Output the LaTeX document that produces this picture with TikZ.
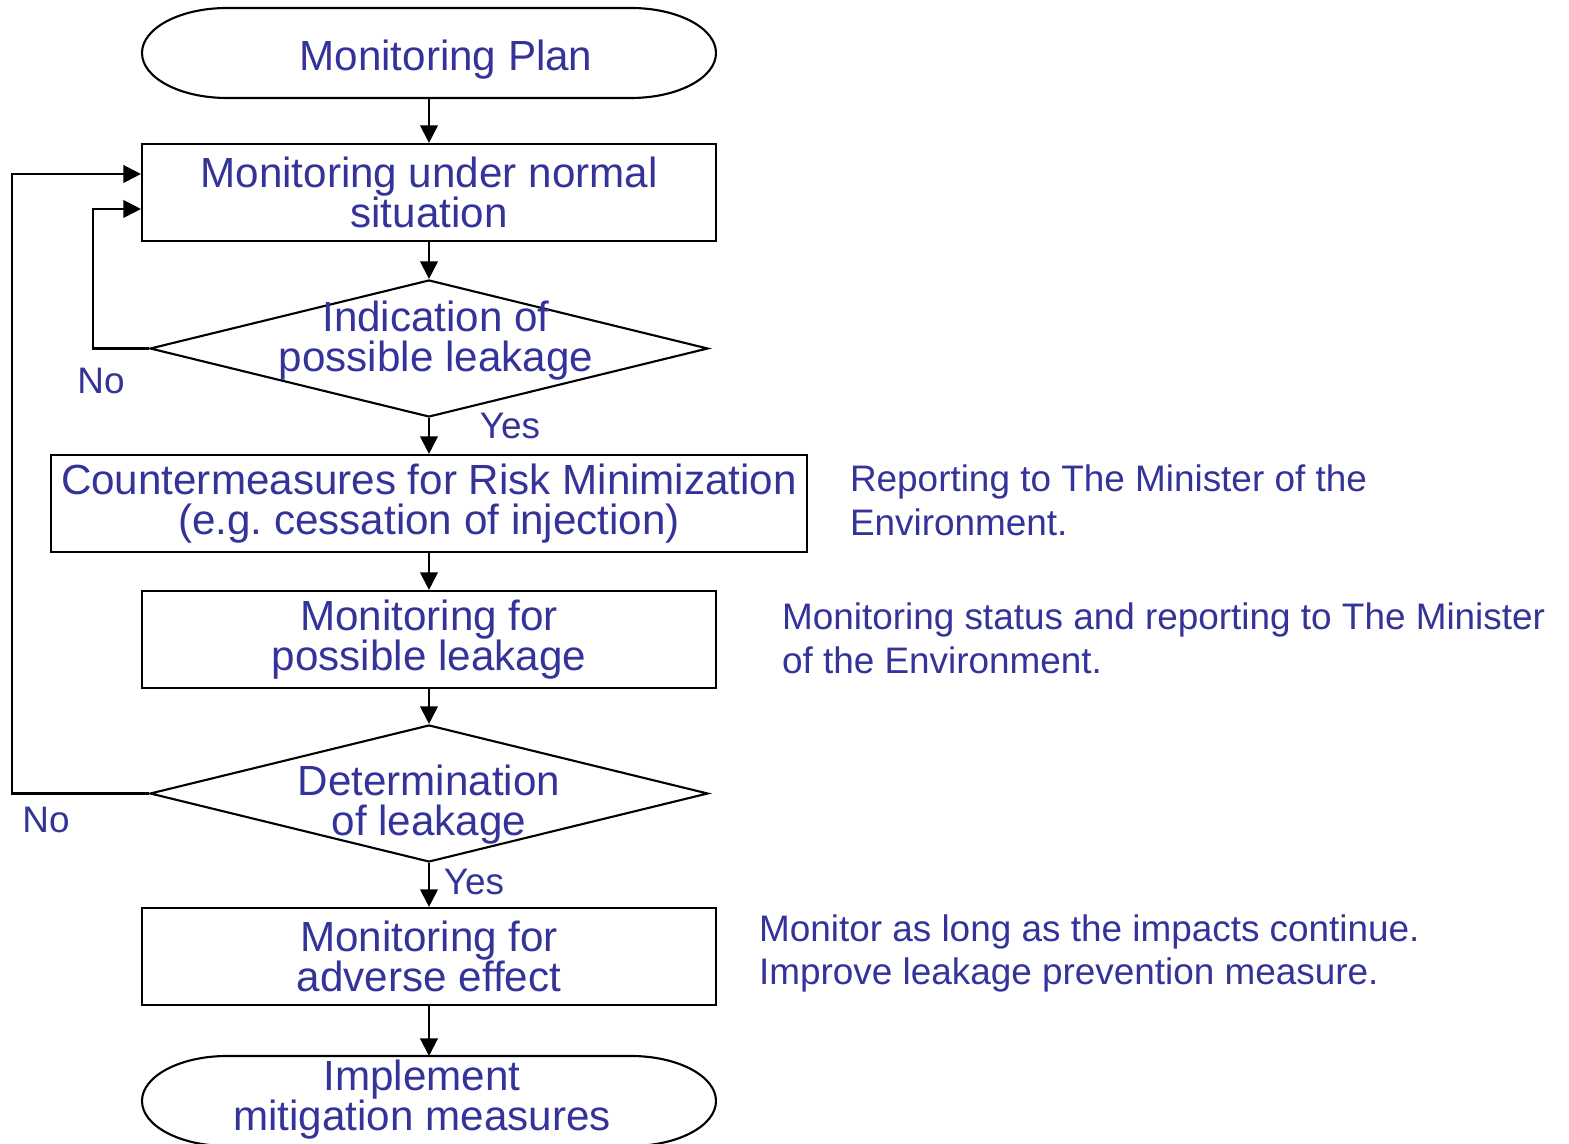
\documentclass[tikz,border=0pt]{standalone}
\usepackage{fontspec}
\setmainfont{Liberation Sans}
\usetikzlibrary{shapes.geometric, arrows.meta, positioning}

\definecolor{txtblue}{RGB}{51,51,153}

\begin{document}
\begin{tikzpicture}[>={Triangle[length=5pt,width=5pt]}, line width=0.6pt,
  box/.style={draw, rectangle, minimum width=5.74cm, minimum height=0.97cm, inner sep=0pt, text=txtblue, font=\fontsize{12}{11.4}\selectfont, align=center},
  decision/.style={draw, diamond, minimum width=5.58cm, minimum height=1.37cm, inner sep=0pt},
  term/.style={rectangle, minimum width=5.74cm, minimum height=0.90cm, inner sep=0pt, outer sep=0pt},
  txt/.style={text=txtblue, font=\fontsize{12}{11.4}\selectfont, align=center, inner sep=0pt},
  note/.style={text=txtblue, font=\fontsize{10.5}{12.5}\selectfont, align=left, inner sep=0pt, anchor=west},
  lbl/.style={text=txtblue, font=\fontsize{10.5}{12.5}\selectfont, inner sep=0pt}]
\useasboundingbox (0,0) rectangle (15.69,-11.44);

% main column
\node (plan) at (4.29,-0.53) [term] {};
\node (norm) at (4.29,-1.925) [box] {Monitoring under normal\\situation};
\node (ind) at (4.29,-3.485) [decision] {};
\node (cm) at (4.29,-5.035) [box, minimum width=7.56cm] {Countermeasures for Risk Minimization\\(e.g.\ cessation of injection)};
\node (poss) at (4.29,-6.395) [box] {Monitoring for\\possible leakage};
\node (det) at (4.29,-7.935) [decision] {};
\node (adv) at (4.29,-9.565) [box] {Monitoring for\\adverse effect};
\node (impl) at (4.29,-11.01) [term] {};

% terminator outlines
\draw ([xshift=0.85cm]plan.north west) -- ([xshift=-0.85cm]plan.north east)
  arc[start angle=90, end angle=-90, x radius=0.85cm, y radius=0.45cm]
  -- ([xshift=0.85cm]plan.south west)
  arc[start angle=270, end angle=90, x radius=0.85cm, y radius=0.45cm] -- cycle;
\draw ([xshift=0.85cm]impl.north west) -- ([xshift=-0.85cm]impl.north east)
  arc[start angle=90, end angle=-90, x radius=0.85cm, y radius=0.45cm]
  -- ([xshift=0.85cm]impl.south west)
  arc[start angle=270, end angle=90, x radius=0.85cm, y radius=0.45cm] -- cycle;

% texts on shapes
\node (plantxt) at (4.46,-0.60) [txt] {Monitoring Plan};
\node (indtxt) at (4.36,-3.405) [txt] {Indication of\\possible leakage};
\node (dettxt) at (4.29,-8.045) [txt] {Determination\\of leakage};
\node (impltxt) at (4.22,-10.995) [txt] {Implement\\mitigation measures};

% side notes
\node (rep) at (8.49,-5.00) [note] {Reporting to The Minister of the\\Environment.};
\node (stat) at (7.81,-6.385) [note] {Monitoring status and reporting to The Minister\\of the Environment.};
\node (imp) at (7.58,-9.535) [note] {Monitor as long as the impacts continue.\\Improve leakage prevention measure.};

% branch labels
\node (no1) at (1.01,-3.81) [lbl] {No};
\node (no2) at (0.46,-8.20) [lbl] {No};
\node (yes1) at (5.10,-4.26) [lbl] {Yes};
\node (yes2) at (4.74,-8.82) [lbl] {Yes};

\draw [->] (plan.south) -- (norm.north);
\draw [->] (norm.south) -- (ind.north);
\draw [->] (ind.south) -- (cm.north);
\draw [->] (cm.south) -- (poss.north);
\draw [->] (poss.south) -- (det.north);
\draw [->] (det.south) -- (adv.north);
\draw [->] (adv.south) -- (impl.north);
\draw [->] (ind.west) -- ++(-0.56,0) |- ([yshift=-0.165cm]norm.west);
\draw [->] (det.west) -- ++(-1.37,0) |- ([yshift=0.185cm]norm.west);
\end{tikzpicture}
\end{document}
